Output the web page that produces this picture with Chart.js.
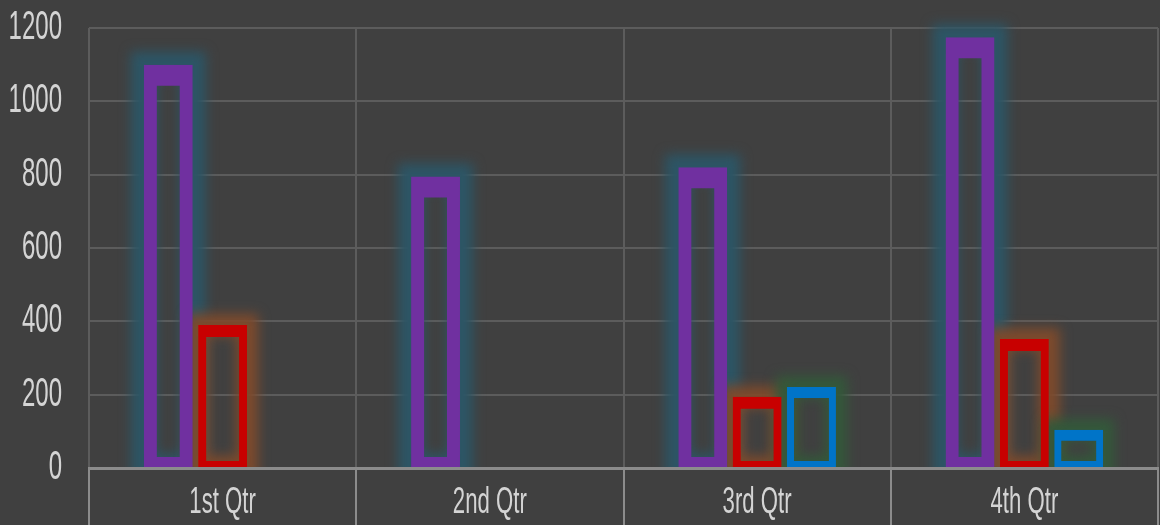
<!DOCTYPE html>
<html>
<head>
<meta charset="utf-8">
<script src="https://cdn.jsdelivr.net/npm/chart.js@4/dist/chart.umd.min.js"></script>
<style>
  html, body { margin:0; padding:0; background:#404040; }
  #wrap { width:1160px; height:525px; position:relative; }
</style>
</head>
<body>
<div id="wrap"><canvas id="chart"></canvas></div>
<script>
// quarters + series values
const quarters = ["1st Qtr", "2nd Qtr", "3rd Qtr", "4th Qtr"];
const purpleValues = [1100, 795, 820, 1175];
const redValues = [390, null, 194, 352];
const blueValues = [null, null, 221, 104];
const yTicks = [0, 200, 400, 600, 800, 1000, 1200];

const FONT = "'Liberation Sans', Arial, sans-serif";
const SQUEEZE = 0.6; // the axis font in the picture is a narrow one

// glow drawn behind each bar, positions come from the bar elements
const glowPlugin = {
  id: "barGlow",
  beforeDatasetsDraw(chart){
    const ctx = chart.ctx;
    chart.data.datasets.forEach((ds, di) => {
      const meta = chart.getDatasetMeta(di);
      meta.data.forEach((bar, i) => {
        if (ds.data[i] == null) return;
        const p = bar.getProps(["x", "y", "base", "width"], true);
        const left = p.x - p.width / 2;
        ctx.save();
        ctx.beginPath();
        ctx.rect(chart.chartArea.left, 0, chart.chartArea.right - chart.chartArea.left, p.base);
        ctx.clip();
        ctx.filter = "blur(6px)";
        ctx.strokeStyle = ds.glowColor;
        ctx.lineWidth = ds.glowWidth;
        ctx.strokeRect(left, p.y, p.width, p.base - p.y);
        ctx.restore();
      });
    });
  }
};

// narrow text: squeeze the tick labels horizontally around their anchor
const narrowText = {
  id: "narrowText",
  beforeInit(chart){
    const ctx = chart.ctx;
    const orig = ctx.fillText.bind(ctx);
    ctx.fillText = function(text, x, y, maxW){
      ctx.save();
      ctx.translate(x, y);
      ctx.scale(SQUEEZE, 1);
      if (maxW !== undefined) orig(text, 0, 0, maxW / SQUEEZE);
      else orig(text, 0, 0);
      ctx.restore();
    };
  }
};

new Chart(document.getElementById("chart"), {
  type: "bar",
  data: {
    labels: quarters,
    datasets: [
      { label: "Series 1", data: purpleValues, backgroundColor: "rgba(0,0,0,0)", borderColor: "#7030A0",
        borderWidth: { top: 21, left: 13, right: 13, bottom: 10 }, borderSkipped: false,
        glowColor: "#2c5565", glowWidth: 26 },
      { label: "Series 2", data: redValues, backgroundColor: "rgba(0,0,0,0)", borderColor: "#C80000",
        borderWidth: { top: 12, left: 8, right: 8, bottom: 6 }, borderSkipped: false,
        glowColor: "#7d4a2c", glowWidth: 22 },
      { label: "Series 3", data: blueValues, backgroundColor: "rgba(0,0,0,0)", borderColor: "#0074C8",
        borderWidth: { top: 11, left: 7, right: 7, bottom: 6 }, borderSkipped: false,
        glowColor: "#33583a", glowWidth: 22 }
    ]
  },
  options: {
    responsive: true,
    maintainAspectRatio: false,
    animation: false,
    layout: { padding: { top: 0, right: 2, bottom: 0, left: 0 } },
    plugins: { legend: { display: false }, tooltip: { enabled: false } },
    datasets: { bar: { categoryPercentage: 0.61, barPercentage: 0.9 } },
    scales: {
      x: {
        grid: { offset: true, color: "#5c5c5c", lineWidth: 2, tickColor: "#8c8c8c", tickLength: 57, tickWidth: 2 },
        border: { display: true, color: "#8c8c8c", width: 3 },
        ticks: { color: "#d4d4d4", font: { family: FONT, size: 37, lineHeight: 1 }, padding: -41, maxRotation: 0 },
        afterFit(scale){ scale.height = 57; }
      },
      y: {
        min: 0, max: 1200,
        afterBuildTicks(scale){ scale.ticks = yTicks.map(v => ({ value: v })); },
        grid: { color: "#5c5c5c", lineWidth: 2, drawTicks: false },
        border: { display: false },
        // tiny line height keeps the top of the plot at the 1200 line position
        ticks: { color: "#d4d4d4", font: { family: FONT, size: 40, lineHeight: "2px" }, padding: 27,
                 callback: v => String(v) },
        afterFit(scale){ scale.width = 89; }
      }
    }
  },
  plugins: [narrowText, glowPlugin]
});
</script>
</body>
</html>
